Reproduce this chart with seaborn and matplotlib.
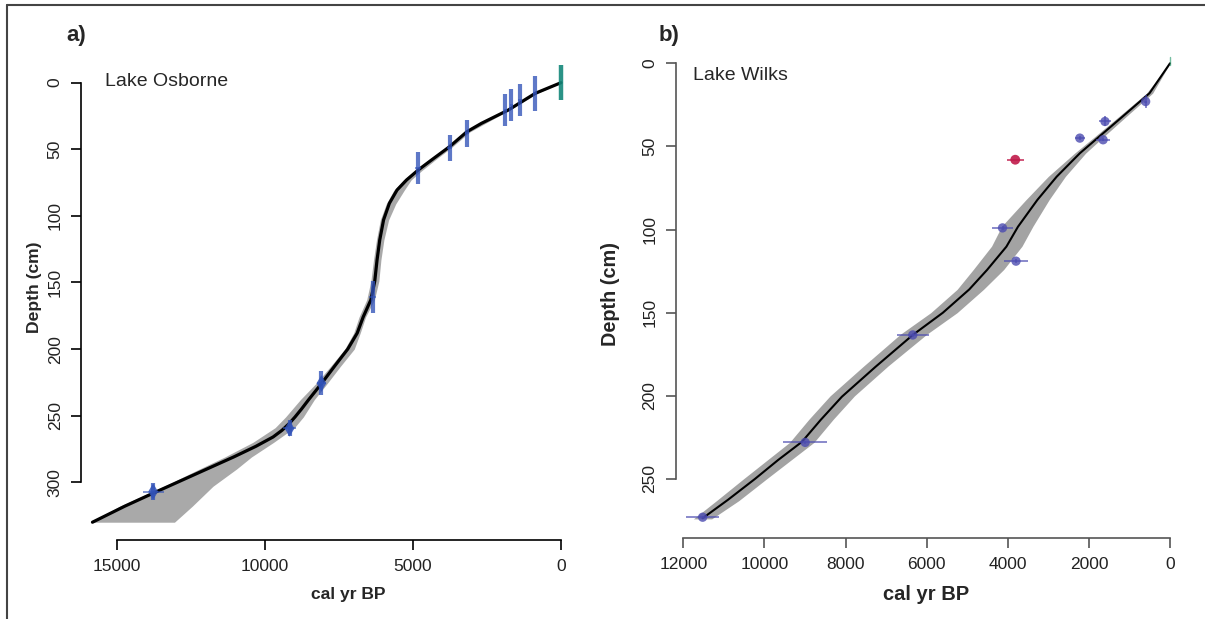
import numpy as np
import matplotlib
matplotlib.use("Agg")
import matplotlib.pyplot as plt
from matplotlib.lines import Line2D
import seaborn as sns

sns.set_style("ticks")
plt.rcParams['font.family'] = ['Liberation Sans', 'DejaVu Sans']

# ---- panel a: Lake Osborne ----
a_curve_depth = [0, 8, 20.5, 30.5, 36.8, 48, 58, 65.6, 73, 80.6, 90.6, 103, 118, 133, 149,
                 163, 176, 188, 200, 213, 226, 238, 245, 251, 256, 261, 266, 273, 281, 290, 298, 308, 318, 330]
a_curve_cal = [0, 870, 1776, 2684, 3176, 3760, 4369, 4823, 5212, 5536, 5795, 5990, 6119, 6210, 6288,
               6418, 6680, 6880, 7200, 7650, 8090, 8520, 8760, 8980, 9180, 9420, 9720, 10300, 11050, 11950, 12750, 13750, 14730, 15818]

a_band_depth = [0, 8, 20, 37, 48, 58, 66, 73, 81, 91, 103, 118, 133, 149, 163, 176, 188, 200,
                213, 226, 238, 251, 259, 270, 281, 290, 303, 318, 330]
a_band_young = [0, 800, 1700, 3080, 3660, 4250, 4700, 5060, 5300, 5580, 5820, 5980, 6080, 6150, 6300, 6600, 6780, 6980,
                7450, 7900, 8330, 8700, 9000, 9700, 10450, 10950, 11750, 12450, 13050]
a_band_old = [0, 940, 1840, 3260, 3840, 4460, 4930, 5320, 5650, 5900, 6100, 6230, 6330, 6420, 6560, 6820, 7000, 7300,
              7780, 8280, 8800, 9300, 9650, 10400, 11350, 12200, 13400, 14900, 15850]

a_dates_cal = [895, 1387, 1672, 1880, 3176, 3760, 4823, 6353, 8090, 9166, 13769]
a_dates_depth = [8, 13, 17, 20.5, 38, 49, 64, 160.7, 225.7, 259.6, 307]
a_dates_dh = [13, 12, 12, 12, 10, 10, 12, 12, 9, 6, 6.5]
a_dates_dx = [60, 60, 60, 60, 80, 80, 100, 120, 150, 220, 350]
a_blob_cal = [8090, 9166, 13769]
a_blob_depth = [225.7, 259.6, 307]
a_top_cal = [0]
a_top_depth = [0]
a_top_dh = [13]

# ---- panel b: Lake Wilks ----
b_curve_depth = [0, 18, 32.1, 44.1, 54.1, 68.2, 82.2, 98.3, 110.3, 124.3, 136, 150, 163.4,
                 182.5, 200.5, 214.5, 227.6, 238.6, 250, 262.6, 273.6]
b_curve_cal = [0, 506, 1173, 1746, 2223, 2795, 3272, 3749, 4035, 4512, 4950, 5600, 6343,
               7259, 8089, 8614, 9072, 9663, 10235, 10903, 11523]

b_band_depth = [0, 18, 32, 44, 54, 68, 82, 98, 110, 124, 136, 150, 163, 182, 200, 214, 228, 250, 263, 274]
b_band_young = [0, 430, 1080, 1630, 2080, 2580, 2980, 3380, 3650, 4100, 4600, 5250, 6000, 6950, 7780, 8300, 8780, 9950, 10630, 11300]
b_band_old = [0, 580, 1260, 1850, 2350, 3000, 3550, 4150, 4400, 4850, 5250, 5900, 6650, 7550, 8380, 8900, 9380, 10520, 11180, 11750]

b_dates_cal = [601, 1603, 2223, 1650, 4130, 3797, 6343, 8995, 11523]
b_dates_depth = [23, 35, 45, 46, 99, 119, 163.4, 228, 273]
b_dates_dx = [40, 150, 130, 170, 260, 300, 390, 550, 400]
b_dates_dh = [4, 3, 1, 1, 1, 1, 1, 1, 1]
b_outlier_cal = [3816]
b_outlier_depth = [58]
b_outlier_dx = [210]

W, H = 1205, 619
fig = plt.figure(figsize=(W / 100, H / 100), dpi=100)
fig.patch.set_facecolor('white')


def frac_box(left, right, top, bottom):
    return [left / W, 1 - bottom / H, (right - left) / W, (bottom - top) / H]


def style_axis(ax, xticks, yticks, xbound, ybound, spine_col):
    ax.set_xticks(xticks)
    ax.set_yticks(yticks)
    ax.set_xticklabels([str(t) for t in xticks])
    ax.set_yticklabels([str(t) for t in yticks])
    for s in ['top', 'right']:
        ax.spines[s].set_visible(False)
    ax.spines['left'].set_bounds(*ybound)
    ax.spines['bottom'].set_bounds(*xbound)
    for s in ['left', 'bottom']:
        ax.spines[s].set_color(spine_col)
        ax.spines[s].set_linewidth(1.2)
    ax.tick_params(direction='out', length=7, width=1.2, color=spine_col,
                   labelsize=12.5, labelcolor='#222222')
    ax.tick_params(axis='x', pad=7)
    ax.tick_params(axis='y', pad=6)
    for lab in ax.get_yticklabels():
        lab.set_rotation(90)
        lab.set_va('center')
    ax.set_xlabel('')
    ax.set_ylabel('')
    ax.set_facecolor('white')


# panel a
ax1 = fig.add_axes(frac_box(80.7, 580, 65.1, 539.8))
ax1.fill_betweenx(a_band_depth, a_band_young, a_band_old, color='#a9a9a9', lw=0)
sns.lineplot(x=a_curve_cal, y=a_curve_depth, sort=False, estimator=None,
             color='black', lw=2.3, ax=ax1)
ax1.errorbar(a_dates_cal, a_dates_depth, yerr=a_dates_dh, fmt='none',
             ecolor='#3152b8', elinewidth=3.0, alpha=0.78, capsize=0, zorder=4)
ax1.errorbar(a_dates_cal, a_dates_depth, xerr=a_dates_dx, fmt='none',
             ecolor='#3152b8', elinewidth=1.2, alpha=0.7, capsize=0, zorder=4)
sns.scatterplot(x=a_blob_cal, y=a_blob_depth, marker='d', s=70, color='#3152b8',
                edgecolor='none', alpha=0.85, ax=ax1, zorder=5)
ax1.errorbar(a_top_cal, a_top_depth, yerr=a_top_dh, fmt='none',
             ecolor='#14877a', elinewidth=3.2, alpha=0.9, capsize=0, zorder=4)
ax1.set_xlim(16215, -641)
ax1.set_ylim(343.2, -13.2)
style_axis(ax1, [15000, 10000, 5000, 0], [0, 50, 100, 150, 200, 250, 300],
           (0, 15000), (0, 300), 'black')

# panel b
ax2 = fig.add_axes(frac_box(675.6, 1189, 45, 538))
ax2.fill_betweenx(b_band_depth, b_band_young, b_band_old, color='#a3a3a3', lw=0)
sns.lineplot(x=b_curve_cal, y=b_curve_depth, sort=False, estimator=None,
             color='black', lw=1.5, ax=ax2)
ax2.errorbar(b_dates_cal, b_dates_depth, xerr=b_dates_dx, yerr=b_dates_dh, fmt='none',
             ecolor='#4b4bb0', elinewidth=1.3, alpha=0.7, capsize=0, zorder=4)
sns.scatterplot(x=b_dates_cal, y=b_dates_depth, color='#4b4bb0', s=45,
                edgecolor='none', alpha=0.8, ax=ax2, zorder=5)
ax2.errorbar(b_outlier_cal, b_outlier_depth, xerr=b_outlier_dx, fmt='none',
             ecolor='#c01a4a', elinewidth=1.3, alpha=0.8, capsize=0, zorder=4)
sns.scatterplot(x=b_outlier_cal, y=b_outlier_depth, color='#c01a4a', s=50,
                edgecolor='none', alpha=0.9, ax=ax2, zorder=5)
ax2.plot([0, 0], [-4, 1], color='#3aa37a', lw=1, alpha=0.7)
ax2.set_xlim(12190, -468)
ax2.set_ylim(285.5, -11.0)
style_axis(ax2, [12000, 10000, 8000, 6000, 4000, 2000, 0], [0, 50, 100, 150, 200, 250],
           (0, 12000), (0, 250), '#555555')

# labels
fig.text(76 / W, 1 - 35 / H, 'a)', fontsize=16, fontweight='bold', ha='center', va='center')
fig.text(669 / W, 1 - 36 / H, 'b)', fontsize=16, fontweight='bold', ha='center', va='center')
fig.text(105 / W, 1 - 81.7 / H, 'Lake Osborne', fontsize=14, ha='left', va='center')
fig.text(693 / W, 1 - 75 / H, 'Lake Wilks', fontsize=14, ha='left', va='center')
fig.text(348 / W, 1 - 595 / H, 'cal yr BP', fontsize=12.6, fontweight='bold', ha='center', va='center')
fig.text(926 / W, 1 - 595 / H, 'cal yr BP', fontsize=14.5, fontweight='bold', ha='center', va='center')
fig.text(34.5 / W, 1 - 287 / H, 'Depth (cm)', fontsize=12.6, fontweight='bold', rotation=90,
         ha='center', va='center')
fig.text(611 / W, 1 - 294 / H, 'Depth (cm)', fontsize=14.3, fontweight='bold', rotation=90,
         ha='center', va='center')

# outer frame (top and left edges)
fig.add_artist(Line2D([7 / W, 7 / W], [0, 1 - 5 / H], transform=fig.transFigure, color='#444444', lw=1.5))
fig.add_artist(Line2D([7 / W, 1], [1 - 5 / H, 1 - 5 / H], transform=fig.transFigure, color='#444444', lw=1.5))

fig.savefig('out.png', dpi=100)
